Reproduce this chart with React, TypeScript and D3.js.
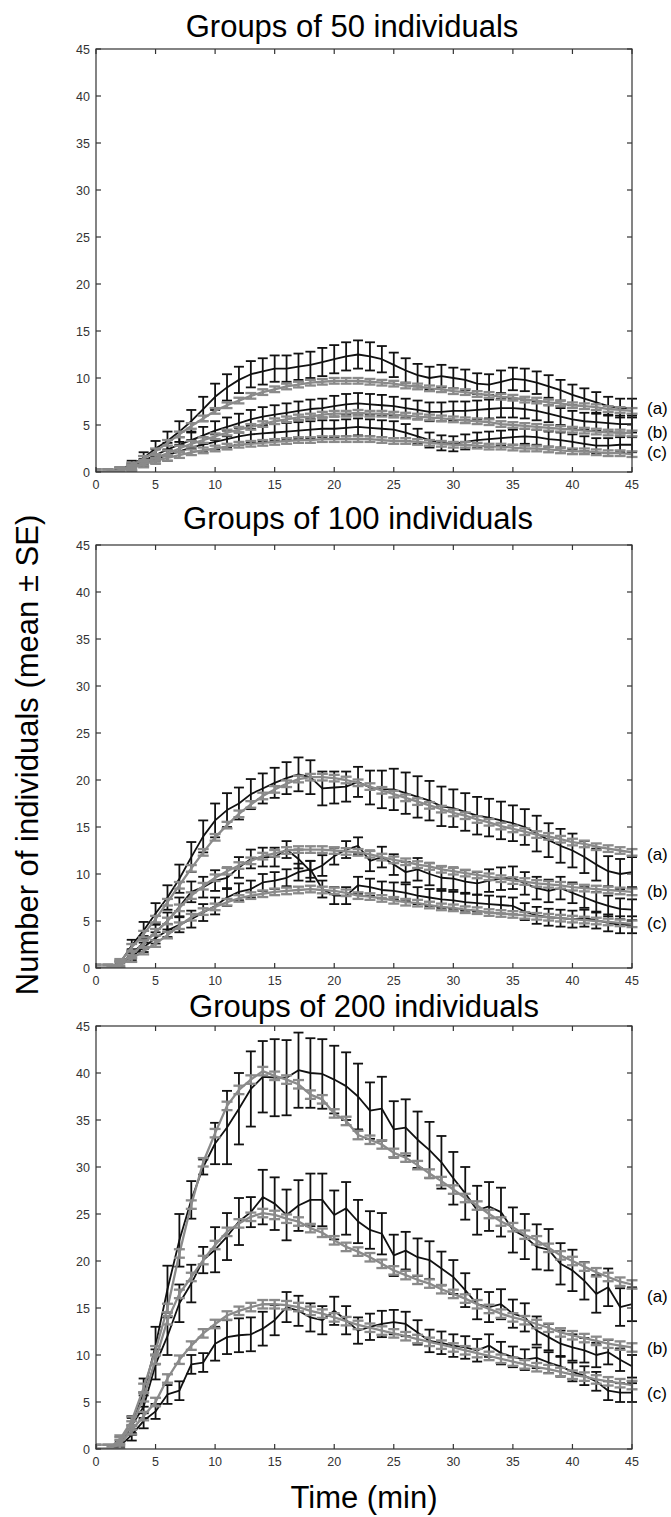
import React from 'react';
import * as d3 from 'd3';

// ---------- data (minutes 0..45) ----------
const minutes = [0,1,2,3,4,5,6,7,8,9,10,11,12,13,14,15,16,17,18,19,20,21,22,23,24,25,26,27,28,29,30,31,32,33,34,35,36,37,38,39,40,41,42,43,44,45];
const xTicks = [0,5,10,15,20,25,30,35,40,45];
const yTicks = [0,5,10,15,20,25,30,35,40,45];
const conditionLabels = ['(a)','(b)','(c)'];
const titles = ['Groups of 50 individuals','Groups of 100 individuals','Groups of 200 individuals'];

// Groups of 50 — experiment (black) and model (gray)
const exp50a = [0,0,0.3,0.8,1.5,2.5,3.3,4.3,5.4,6.7,8.0,9.0,9.8,10.4,10.7,11.0,11.0,11.2,11.4,11.7,12.0,12.3,12.5,12.3,12.0,11.4,10.8,10.3,10.0,10.2,10.0,9.8,9.4,9.3,9.6,9.9,9.8,9.5,9.1,8.7,8.2,7.8,7.4,7.0,6.8,6.8];
const se50a = [0,0,0.2,0.4,0.6,0.8,1.0,1.1,1.2,1.3,1.4,1.4,1.4,1.4,1.4,1.4,1.4,1.4,1.4,1.5,1.5,1.5,1.5,1.5,1.4,1.3,1.3,1.2,1.2,1.2,1.1,1.1,1.1,1.1,1.2,1.2,1.2,1.2,1.2,1.1,1.1,1.1,1.1,1.0,1.0,1.0];
const exp50b = [0,0,0.2,0.6,1.2,1.8,2.4,2.9,3.4,3.9,4.4,4.8,5.2,5.6,5.9,6.1,6.3,6.5,6.7,6.8,7.0,7.2,7.3,7.2,7.1,7.0,6.8,6.6,6.4,6.4,6.5,6.5,6.6,6.7,6.8,6.8,6.7,6.5,6.2,5.9,5.6,5.4,5.3,5.2,5.1,5.1];
const se50b = [0,0,0.2,0.3,0.5,0.6,0.7,0.8,0.9,0.9,1.0,1.0,1.0,1.0,1.0,1.0,1.0,1.0,1.0,1.0,1.1,1.1,1.1,1.1,1.1,1.0,1.0,1.0,1.0,1.0,1.0,1.0,1.0,1.0,1.0,1.0,1.0,1.0,0.9,0.9,0.9,0.9,0.9,0.9,0.9,0.9];
const exp50c = [0,0,0.2,0.5,1.0,1.4,1.8,2.2,2.6,2.9,3.2,3.5,3.8,4.0,4.1,4.2,4.3,4.4,4.5,4.6,4.6,4.7,4.8,4.7,4.6,4.5,4.2,3.8,3.4,3.1,3.0,3.2,3.4,3.5,3.6,3.7,3.8,3.7,3.5,3.4,3.2,3.0,2.8,2.8,2.9,2.9];
const se50c = [0,0,0.2,0.3,0.4,0.5,0.6,0.7,0.8,0.8,0.8,0.9,0.9,0.9,0.9,0.9,0.9,0.9,0.9,0.9,0.9,0.9,0.9,0.9,0.9,0.9,0.9,0.8,0.8,0.8,0.8,0.8,0.8,0.8,0.8,0.8,0.8,0.8,0.8,0.8,0.8,0.8,0.8,0.8,0.8,0.8];
const mod50a = [0,0,0.2,0.7,1.4,2.2,3.1,4.0,4.9,5.7,6.5,7.1,7.6,8.1,8.5,8.8,9.1,9.3,9.5,9.6,9.7,9.7,9.7,9.6,9.5,9.4,9.2,9.1,8.9,8.8,8.6,8.5,8.3,8.2,8.0,7.9,7.7,7.6,7.4,7.3,7.1,7.0,6.9,6.7,6.6,6.5];
const mod50b = [0,0,0.2,0.5,1.0,1.5,2.0,2.5,3.0,3.4,3.8,4.2,4.5,4.8,5.1,5.4,5.6,5.8,5.9,6.1,6.2,6.2,6.3,6.2,6.2,6.1,6.0,5.9,5.8,5.7,5.6,5.5,5.4,5.3,5.1,5.0,4.9,4.8,4.7,4.6,4.5,4.4,4.3,4.2,4.2,4.1];
const mod50c = [0,0,0.1,0.4,0.8,1.2,1.5,1.8,2.1,2.3,2.5,2.7,2.9,3.0,3.1,3.2,3.3,3.4,3.4,3.5,3.5,3.5,3.5,3.5,3.4,3.3,3.3,3.2,3.1,3.0,2.9,2.9,2.8,2.7,2.7,2.6,2.5,2.5,2.4,2.3,2.2,2.2,2.1,2.0,2.0,1.9];
const modSe50 = 0.3;

// Groups of 100
const exp100a = [0,0,0.5,2.4,4.0,5.8,7.5,9.5,11.8,14.0,15.7,16.8,17.5,18.5,19.1,19.7,20.2,20.6,20.3,19.1,19.2,19.3,19.8,19.2,19.0,19.0,18.6,18.2,17.8,17.2,17.0,16.6,16.2,16.0,15.7,15.4,15.0,14.3,13.6,13.0,12.5,11.8,11.0,10.3,10.0,10.2];
const se100a = [0,0,0.3,0.6,0.9,1.1,1.3,1.5,1.6,1.7,1.8,1.8,1.7,1.6,1.6,1.6,1.7,1.8,1.8,1.8,1.7,1.6,1.6,1.8,2.0,2.2,2.2,2.2,2.1,2.1,2.0,2.0,2.0,2.0,2.0,1.9,1.9,1.9,1.8,1.8,1.8,1.7,1.7,1.6,1.6,1.6];
const exp100b = [0,0,0.4,1.5,2.7,3.8,5.0,6.5,8.1,8.6,9.3,9.6,10.7,11.6,11.8,11.8,12.6,11.6,10.3,10.9,11.9,12.6,13.0,11.4,11.8,11.0,10.2,10.5,10.0,9.6,9.5,9.2,9.0,9.3,9.5,9.6,9.0,8.5,8.2,8.5,8.0,7.5,7.0,6.6,6.3,6.2];
const se100b = [0,0,0.3,0.5,0.7,0.8,0.9,1.0,1.1,1.1,1.1,1.1,1.1,1.0,1.0,1.0,0.9,1.0,1.1,1.1,0.9,0.9,0.9,1.1,1.1,1.1,1.1,1.2,1.2,1.2,1.2,1.2,1.2,1.2,1.2,1.2,1.2,1.2,1.2,1.2,1.1,1.1,1.1,1.1,1.1,1.1];
const exp100c = [0,0,0.3,1.2,2.2,3.2,4.0,4.6,5.2,5.9,6.6,7.5,8.1,8.4,9.1,9.3,9.6,10.2,10.5,8.4,7.7,7.7,8.8,8.6,8.3,8.2,8.0,7.7,7.5,7.3,7.2,7.0,6.9,6.8,6.7,6.6,6.0,5.6,5.4,5.3,5.2,5.3,5.1,4.8,4.6,4.6];
const se100c = [0,0,0.2,0.4,0.5,0.6,0.7,0.8,0.9,0.9,0.9,0.9,0.9,0.9,0.9,0.9,0.9,0.9,0.9,0.9,0.9,0.9,0.9,0.9,0.9,0.9,0.9,0.9,0.9,0.9,0.9,0.9,0.9,0.9,0.9,0.9,0.9,0.9,0.9,0.9,0.9,0.9,0.9,0.9,0.9,0.9];
const mod100a = [0,0,0.6,2.2,3.6,5.2,7.0,8.8,10.6,12.3,13.9,15.2,16.4,17.4,18.3,19.0,19.6,20.1,20.3,20.3,20.2,20.0,19.7,19.3,18.9,18.5,18.1,17.7,17.3,16.9,16.5,16.2,15.8,15.5,15.1,14.8,14.5,14.2,14.0,13.7,13.4,13.2,12.9,12.7,12.5,12.3];
const mod100b = [0,0,0.4,1.4,2.6,3.8,5.0,6.4,7.7,8.7,9.6,10.3,10.9,11.4,11.9,12.2,12.5,12.6,12.6,12.6,12.5,12.4,12.3,12.1,11.8,11.5,11.3,11.0,10.8,10.5,10.3,10.1,9.9,9.7,9.5,9.3,9.2,9.0,8.9,8.8,8.6,8.5,8.4,8.3,8.2,8.1];
const mod100c = [0,0,0.3,1.0,1.8,2.6,3.5,4.5,5.4,6.0,6.5,7.0,7.4,7.7,7.9,8.1,8.2,8.3,8.4,8.3,8.2,8.0,7.7,7.6,7.4,7.2,7.0,6.9,6.7,6.5,6.4,6.2,6.1,5.9,5.8,5.7,5.6,5.5,5.4,5.3,5.2,5.1,5.0,4.9,4.8,4.7];
const modSe100 = 0.35;

// Groups of 200
const exp200a = [0,0,0.8,2.5,6.0,11.0,17.0,22.2,26.5,30.0,32.5,34.2,36.2,38.3,39.6,39.5,39.5,40.3,40.0,39.9,39.3,38.6,37.5,36.0,36.2,34.0,34.2,32.9,31.8,30.5,28.8,27.2,25.4,25.8,25.2,23.3,22.6,21.5,21.2,19.7,19.0,17.9,16.5,17.2,15.1,15.4];
const se200a = [0,0,0.5,1.0,1.5,2.0,2.5,2.8,2.0,0.8,2.2,3.9,3.8,4.0,3.8,4.1,4.0,4.0,3.7,3.7,3.6,3.6,3.5,3.0,3.4,3.0,3.0,3.0,3.0,2.8,2.8,2.8,2.6,2.6,2.6,2.4,2.4,2.4,2.2,2.2,2.2,2.0,2.0,2.0,2.0,1.8];
const exp200b = [0,0,0.5,2.5,4.5,9.0,12.0,15.5,17.6,20.1,21.2,22.6,24.2,25.2,26.8,26.1,24.9,25.9,26.5,26.5,24.9,25.6,24.2,23.3,22.9,20.6,21.1,20.4,20.1,19.2,18.3,16.9,15.4,15.1,15.4,14.4,14.0,12.6,11.9,11.2,10.8,10.5,10.0,10.3,9.5,8.8];
const se200b = [0,0,0.3,0.8,1.2,1.6,2.0,2.0,2.0,1.4,2.4,2.5,2.5,1.6,2.9,2.8,2.7,2.7,2.8,2.8,2.6,2.8,2.3,2.0,2.2,2.2,2.0,2.0,2.0,1.8,1.8,1.8,1.6,1.6,1.6,1.5,1.5,1.5,1.4,1.4,1.4,1.3,1.3,1.3,1.2,1.2];
const exp200c = [0,0,0.3,1.5,3.0,4.0,5.8,6.2,9.0,9.2,11.2,11.9,12.1,12.2,12.8,13.7,15.1,14.7,14.0,13.7,14.7,13.7,12.6,13.0,13.3,13.5,13.3,12.4,11.5,11.3,11.0,10.8,10.5,11.0,10.2,9.8,9.5,9.7,9.2,8.8,8.2,7.8,7.2,6.2,6.0,6.0];
const se200c = [0,0,0.2,0.6,0.8,0.8,1.0,1.0,1.0,1.0,1.8,1.8,1.8,1.8,1.8,1.6,1.6,1.6,1.5,1.5,1.5,1.5,1.4,1.4,1.4,1.3,1.3,1.3,1.2,1.2,1.2,1.2,1.2,1.2,1.2,1.1,1.1,1.1,1.1,1.1,1.0,1.0,1.0,1.0,1.0,1.0];
const mod200a = [0,0,1.0,3.0,6.5,10.5,15.0,20.8,26.0,30.5,33.6,36.5,38.2,39.3,40.2,39.7,39.3,38.8,37.7,37.2,35.7,34.9,33.4,32.9,32.4,31.5,31.0,30.2,29.3,28.5,27.6,26.7,25.9,25.0,24.2,23.6,22.8,22.2,21.4,20.6,20.0,19.4,18.8,18.3,17.8,17.5];
const mod200b = [0,0,0.8,2.5,5.5,9.5,13.7,16.5,18.3,20.1,21.7,23.1,24.0,24.7,25.1,24.9,24.5,24.2,23.5,23.0,22.2,21.5,21.0,20.4,19.7,19.0,18.5,18.0,17.6,17.0,16.5,16.0,15.4,14.9,14.4,14.0,13.7,13.3,12.9,12.4,12.1,11.8,11.5,11.2,11.0,10.8];
const mod200c = [0,0,0.5,2.0,3.5,5.0,7.5,9.5,11.0,12.3,13.3,14.2,14.7,15.1,15.4,15.4,15.3,15.1,14.7,14.4,14.0,13.6,13.2,12.9,12.6,12.3,12.0,11.7,11.4,11.1,10.8,10.5,10.2,9.9,9.6,9.3,9.0,8.7,8.5,8.2,7.9,7.7,7.4,7.2,7.0,6.8];
const modSe200 = 0.45;

// right-hand condition label heights (in y units) per panel
const labelPos50 = [6.8, 4.3, 2.1];
const labelPos100 = [12.1, 8.2, 4.75];
const labelPos200 = [16.3, 10.7, 6.0];

// ---------- layout ----------
const W = 671, H = 1517;
const X0 = 96, X1 = 632;
const PH = 423;
const FONT = "'Liberation Sans', Arial, Helvetica, sans-serif";
const BLACK = '#111';
const GRAY = '#8a8a8a';

type PanelDef = {
  top: number; title: string; titleX: number; titleY: number;
  exp: number[][]; se: number[][]; mod: number[][]; modSe: number; labels: number[];
};

const panels: PanelDef[] = [
  { top: 49, title: titles[0], titleX: 352, titleY: 37, exp: [exp50a, exp50b, exp50c], se: [se50a, se50b, se50c], mod: [mod50a, mod50b, mod50c], modSe: modSe50, labels: labelPos50 },
  { top: 545, title: titles[1], titleX: 358, titleY: 529, exp: [exp100a, exp100b, exp100c], se: [se100a, se100b, se100c], mod: [mod100a, mod100b, mod100c], modSe: modSe100, labels: labelPos100 },
  { top: 1026, title: titles[2], titleX: 364, titleY: 1017, exp: [exp200a, exp200b, exp200c], se: [se200a, se200b, se200c], mod: [mod200a, mod200b, mod200c], modSe: modSe200, labels: labelPos200 },
];

function ErrorSeries({ vals, se, x, y, color, width, cap }: any) {
  const line = d3.line<number>().x((_, i) => x(minutes[i])).y(d => y(d));
  return (
    <g>
      <path d={line(vals) || ''} fill="none" stroke={color} strokeWidth={width} strokeLinejoin="round" />
      {vals.map((v: number, i: number) => {
        const s = Array.isArray(se) ? se[i] : se;
        if (!(s > 0)) return null;
        const cx = x(minutes[i]);
        const yt = y(v + s), yb = y(Math.max(0, v - s));
        return (
          <g key={i} stroke={color} strokeWidth={width}>
            <line x1={cx} x2={cx} y1={yt} y2={yb} />
            <line x1={cx - cap} x2={cx + cap} y1={yt} y2={yt} />
            <line x1={cx - cap} x2={cx + cap} y1={yb} y2={yb} />
          </g>
        );
      })}
    </g>
  );
}

function Panel({ p }: { p: PanelDef }) {
  const x = d3.scaleLinear().domain([0, 45]).range([X0, X1]);
  const y = d3.scaleLinear().domain([0, 45]).range([p.top + PH, p.top]);
  const bottom = p.top + PH;
  return (
    <g>
      <text x={p.titleX} y={p.titleY} textAnchor="middle" fontFamily={FONT} fontSize={31} fill="#000">{p.title}</text>
      <defs>
        <clipPath id={'clip' + p.top}>
          <rect x={X0} y={p.top - 10} width={X1 - X0 + 8} height={PH + 10} />
        </clipPath>
      </defs>
      <g clipPath={`url(#clip${p.top})`}>
        {p.exp.map((vals, k) => (
          <ErrorSeries key={'e' + k} vals={vals} se={p.se[k]} x={x} y={y} color={BLACK} width={1.8} cap={5} />
        ))}
        {p.mod.map((vals, k) => (
          <ErrorSeries key={'m' + k} vals={vals} se={p.modSe} x={x} y={y} color={GRAY} width={2.3} cap={5.5} />
        ))}
      </g>
      {/* box */}
      <rect x={X0} y={p.top} width={X1 - X0} height={PH} fill="none" stroke="#333" strokeWidth={1.2} />
      {xTicks.map(t => (
        <g key={'xt' + t}>
          <line x1={x(t)} x2={x(t)} y1={bottom} y2={bottom - 5} stroke="#333" strokeWidth={1.2} />
          <line x1={x(t)} x2={x(t)} y1={p.top} y2={p.top + 5} stroke="#333" strokeWidth={1.2} />
          <text x={x(t)} y={bottom + 17} textAnchor="middle" fontFamily={FONT} fontSize={12.5} fill="#333">{t}</text>
        </g>
      ))}
      {yTicks.map(t => (
        <g key={'yt' + t}>
          <line x1={X0} x2={X0 + 5} y1={y(t)} y2={y(t)} stroke="#333" strokeWidth={1.2} />
          <line x1={X1} x2={X1 - 5} y1={y(t)} y2={y(t)} stroke="#333" strokeWidth={1.2} />
          <text x={90} y={y(t) + 4.5} textAnchor="end" fontFamily={FONT} fontSize={12.5} fill="#333">{t}</text>
        </g>
      ))}
      {conditionLabels.map((lab, k) => (
        <text key={lab} x={647} y={y(p.labels[k]) + 6} fontFamily={FONT} fontSize={17} fill="#000">{lab}</text>
      ))}
    </g>
  );
}

export default function App() {
  return (
    <svg width={W} height={H} viewBox={`0 0 ${W} ${H}`} style={{ position: 'absolute', left: 0, top: 0, background: '#fff' }}>
      <rect x={0} y={0} width={W} height={H} fill="#fff" />
      {panels.map(p => <Panel key={p.top} p={p} />)}
      <text x={364} y={1508} textAnchor="middle" fontFamily={FONT} fontSize={31} fill="#000">Time (min)</text>
      <text transform={`translate(38, 755) rotate(-90)`} textAnchor="middle" fontFamily={FONT} fontSize={31} fill="#000">Number of individuals (mean ± SE)</text>
    </svg>
  );
}
